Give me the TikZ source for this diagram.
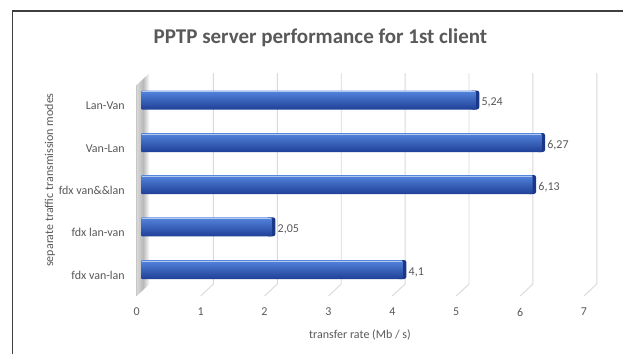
\documentclass[tikz,border=0pt]{standalone}
\usepackage{fontspec}
\setmainfont{Carlito}
\definecolor{txt}{HTML}{595959}
\definecolor{grid}{HTML}{D9D9D9}
\definecolor{frame}{HTML}{3F3F3F}
\definecolor{btop}{HTML}{5586DE}
\definecolor{bmid}{HTML}{2F5EC6}
\definecolor{bbot}{HTML}{1F3F96}
\definecolor{bcap}{HTML}{1B3787}
\tikzset{
  tick/.style={text=txt, font=\fontsize{12}{14}\selectfont, inner sep=0pt},
  cat/.style={text=txt, font=\fontsize{12}{14}\selectfont, inner sep=0pt, anchor=east},
  val/.style={text=txt, font=\fontsize{12}{14}\selectfont, inner sep=0pt, anchor=west},
  gridline/.style={draw=grid, line width=0.9pt},
}
\newcommand\mybar[5]{%
  \pgfmathsetmacro\xe{141+#3*63.9}%
  \fill[bcap, rounded corners=2.5pt] (\xe-6,#2-9.5) rectangle (\xe+3.5,#2+9.5);
  \shade[top color=btop, middle color=bmid, bottom color=bbot, rounded corners=1pt] (141,#2-9.5) rectangle (\xe,#2+9.5);
  \draw[white!55!btop, line width=0.8pt] (142,#2-8.6) -- (\xe-1,#2-8.6);
  \node[val] (v#1) at (\xe+5.5,#2+2.5) {#4};
  \node[cat] (c#1) at (125,#2+6) {#5};
}
\begin{document}
\begin{tikzpicture}[x=1pt,y=-1pt]
\useasboundingbox (0,0) rectangle (623,354);
\fill[white] (0,0) rectangle (623,354);
% frame
\draw[frame, line width=1.6pt] (12.5,354) -- (12.5,10.8) -- (623,10.8);
% title
\node[text=txt, font=\bfseries\fontsize{21}{24}\selectfont, inner sep=0pt] (title) at (320.5,38) {PPTP server performance for 1st client};
% back wall
\shade[left color=gray!30, right color=white, middle color=gray!55] (136.7,85) -- (149.5,73) -- (149.5,284) -- (136.7,296) -- cycle;
\draw[grid!80!gray, line width=0.6pt] (136.7,85) -- (136.7,296);
% gridlines and ticks
\foreach \k in {0,...,7}{
  \pgfmathsetmacro\bx{149.5+\k*63.9}
  \ifnum\k>0
    \draw[gridline] (\bx,73) -- (\bx,284) -- (\bx-12.8,296);
  \fi
  \node[tick] (t\k) at (\bx-12.8,312) {\k};
}
% bars
\mybar{1}{100}{5.24}{5,24}{Lan-Van}
\mybar{2}{142.5}{6.27}{6,27}{Van-Lan}
\mybar{3}{184.5}{6.13}{6,13}{fdx van\&\&lan}
\mybar{4}{226.8}{2.05}{2,05}{fdx lan-van}
\mybar{5}{269.5}{4.1}{4,1}{fdx van-lan}
% axis titles
\node[tick] (xt) at (360,334.5) {transfer rate (Mb / s)};
\node[tick, rotate=90] (yt) at (50,180) {separate traffic transmission modes};
\end{tikzpicture}
\end{document}
